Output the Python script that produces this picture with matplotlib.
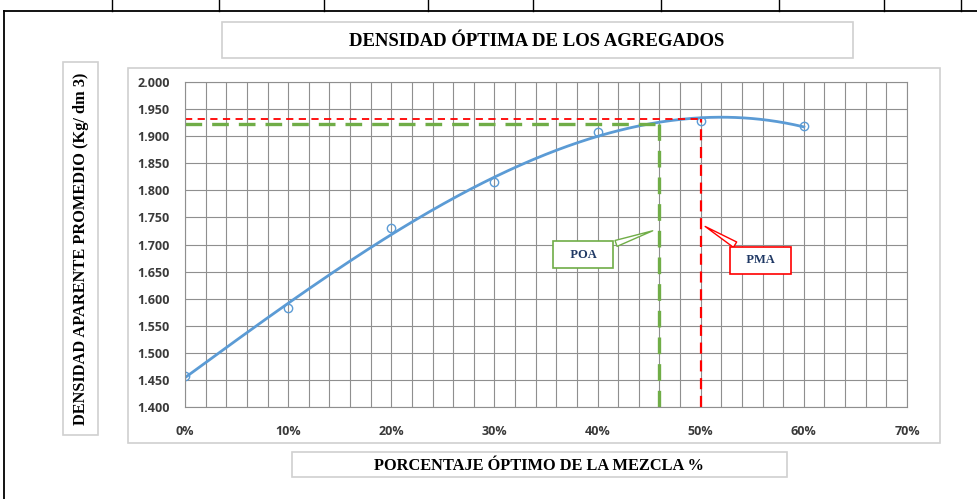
import numpy as np
import matplotlib.pyplot as plt
from matplotlib.patches import Rectangle
from matplotlib.lines import Line2D

# porcentaje de mezcla y densidad aparente promedio
porcentaje = [0, 10, 20, 30, 40, 50, 60]
densidad = [1.457, 1.582, 1.730, 1.816, 1.907, 1.928, 1.919]

# puntos optimos (POA / PMA)
poa_x, poa_y = 46, 1.922
pma_x, pma_y = 50, 1.931

y_ticks = [1.400, 1.450, 1.500, 1.550, 1.600, 1.650, 1.700, 1.750,
           1.800, 1.850, 1.900, 1.950, 2.000]
x_ticks = [0, 10, 20, 30, 40, 50, 60, 70]

W, H = 977, 499
fig = plt.figure(figsize=(W / 100, H / 100), dpi=100)

def px_box(x0, y0, x1, y1, ec='#d0d0d0', lw=1.2):
    fig.add_artist(Rectangle((x0 / W, 1 - y1 / H), (x1 - x0) / W, (y1 - y0) / H,
                             transform=fig.transFigure, fill=False, ec=ec, lw=lw))

# marco de la hoja
fig.add_artist(Line2D([4 / W, 1], [1 - 11 / H, 1 - 11 / H], transform=fig.transFigure, color='black', lw=1.3))
fig.add_artist(Line2D([4 / W, 4 / W], [0, 1 - 11 / H], transform=fig.transFigure, color='black', lw=1.3))
for tx in [112, 219, 324, 428, 533, 661, 779, 884, 961]:
    fig.add_artist(Line2D([tx / W, tx / W], [1 - 11 / H, 1], transform=fig.transFigure, color='black', lw=1))

# cajas de titulo, ejes y area del grafico
px_box(128, 68, 940, 443)
px_box(222, 22, 853, 58)
px_box(63, 62, 98, 435)
px_box(292, 452, 787, 477)

fig.text(537 / W, 1 - 42 / H, 'DENSIDAD ÓPTIMA DE LOS AGREGADOS', ha='center', va='center',
         family='Liberation Serif', weight='bold', fontsize=13.5)
fig.text(539 / W, 1 - 466 / H, 'PORCENTAJE ÓPTIMO DE LA MEZCLA %', ha='center', va='center',
         family='Liberation Serif', weight='bold', fontsize=11.8)
fig.text(81 / W, 1 - 249 / H, 'DENSIDAD APARENTE PROMEDIO (Kg/ dm 3)', ha='center', va='center',
         rotation=90, family='Liberation Serif', weight='bold', fontsize=11.8)

ax = fig.add_axes([185 / W, 1 - 407 / H, (907 - 185) / W, (407 - 82) / H])
ax.set_xlim(0, 70)
ax.set_ylim(1.4, 2.0)
ax.set_xticks(x_ticks)
ax.set_xticks(np.arange(0, 71, 2), minor=True)
ax.set_yticks(y_ticks)
ax.set_xticklabels([f'{v}%' for v in x_ticks])
ax.set_yticklabels([f'{v:.3f}' for v in y_ticks])
ax.tick_params(length=0, which='both', labelsize=9, labelcolor='#3a3a3a')
ax.tick_params(axis='y', pad=11)
ax.tick_params(axis='x', pad=13)
for lab in ax.get_xticklabels() + ax.get_yticklabels():
    lab.set_family('Open Sans')
    lab.set_weight('bold')
ax.grid(True, which='both', color='#8f8f8f', lw=0.8)
ax.set_axisbelow(True)
for s in ax.spines.values():
    s.set_color('#8f8f8f')
    s.set_linewidth(0.8)

# linea de tendencia polinomica
coef = np.polyfit(porcentaje, densidad, 3)
xs = np.linspace(0, 60, 300)
ax.plot(xs, np.polyval(coef, xs), color='#5b9bd5', lw=2)
ax.plot(porcentaje, densidad, 'o', mfc='none', mec='#5b9bd5', ms=6, mew=1)

# lineas de referencia
ax.plot([0, pma_x], [pma_y, pma_y], color='#ff0000', lw=1.3, dashes=(4, 3))
ax.plot([pma_x, pma_x], [1.4, pma_y], color='#ff0000', lw=1.6, dashes=(5, 3))
ax.plot([0, poa_x], [poa_y, poa_y], color='#70ad47', lw=2.4, dashes=(5, 3))
ax.plot([poa_x, poa_x], [1.4, poa_y], color='#70ad47', lw=2.4, dashes=(5, 3))

ax.annotate('   POA   ', xy=(45.6, 1.727), xytext=(38.6, 1.681), ha='center', va='center',
            family='Liberation Serif', weight='bold', fontsize=9, color='#1f3864',
            bbox=dict(boxstyle='square,pad=0.6', fc='white', ec='#70ad47', lw=1.2),
            arrowprops=dict(arrowstyle='wedge,tail_width=0.5', fc='white', ec='#70ad47', lw=1))
ax.annotate('   PMA   ', xy=(50.2, 1.736), xytext=(55.8, 1.671), ha='center', va='center',
            family='Liberation Serif', weight='bold', fontsize=9, color='#1f3864',
            bbox=dict(boxstyle='square,pad=0.6', fc='white', ec='#ff0000', lw=1.2),
            arrowprops=dict(arrowstyle='wedge,tail_width=0.5', fc='white', ec='#ff0000', lw=1))

fig.savefig('out.png', dpi=100)
